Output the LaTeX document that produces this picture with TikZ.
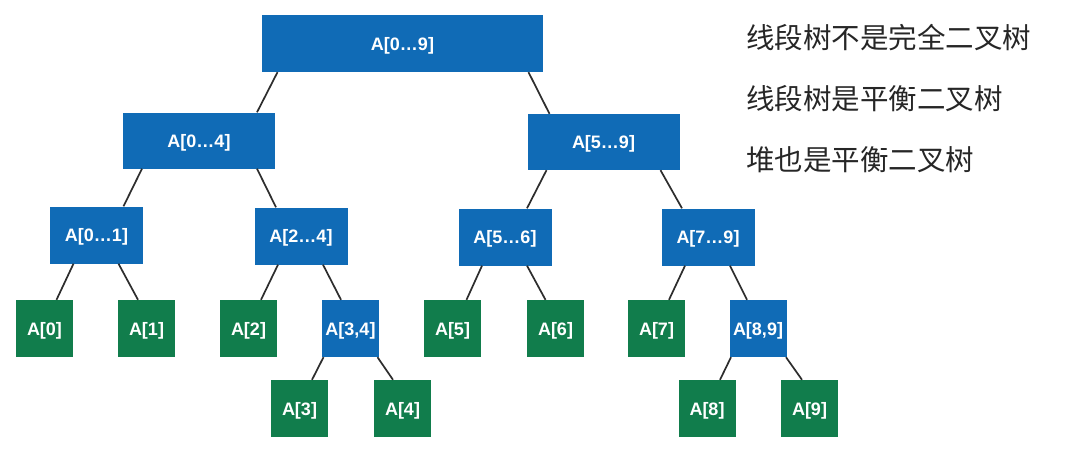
\documentclass[tikz,border=0pt]{standalone}
\usepackage{fontspec}
\setmainfont{Liberation Sans}
\newfontfamily\cjk{Noto Sans CJK SC}
\definecolor{nodeblue}{RGB}{16,107,182}
\definecolor{leafgreen}{RGB}{17,125,76}
\definecolor{edgegray}{RGB}{45,45,45}
\begin{document}
\begin{tikzpicture}[x=1pt,y=-1pt,
  box/.style={rectangle, inner sep=0pt, text=white, text height=13pt, text depth=0pt, font=\fontsize{18}{21}\selectfont\bfseries},
  rootbox/.style={box, fill=nodeblue, minimum width=281pt, minimum height=57pt},
  midbox/.style={box, fill=nodeblue, minimum width=152pt, minimum height=56pt},
  smallbox/.style={box, fill=nodeblue, minimum width=93pt, minimum height=57pt},
  pairbox/.style={box, fill=nodeblue, minimum width=57pt, minimum height=57pt},
  leafbox/.style={box, fill=leafgreen, minimum width=57pt, minimum height=57pt},
  link/.style={draw=edgegray, line width=1.7pt},
  note/.style={anchor=west, inner sep=0pt, text=black!85, font=\cjk\fontsize{28.5}{32}\selectfont}]
\useasboundingbox (0,0) rectangle (1080,461);
\fill[white] (0,0) rectangle (1080,461);
% nodes
\node[rootbox] (r) at (402.5,43.5) {A[0…9]};
\node[midbox] (n04) at (199,140.5) {A[0…4]};
\node[midbox] (n59) at (603.5,142) {A[5…9]};
\node[smallbox] (n01) at (96.5,235) {A[0…1]};
\node[smallbox] (n24) at (301,236) {A[2…4]};
\node[smallbox] (n56) at (505,237) {A[5…6]};
\node[smallbox] (n79) at (708,237) {A[7…9]};
\node[leafbox] (a0) at (44.5,328.5) {A[0]};
\node[leafbox] (a1) at (146.5,328.5) {A[1]};
\node[leafbox] (a2) at (248.5,328.5) {A[2]};
\node[pairbox] (a34) at (350.5,328.5) {A[3,4]};
\node[leafbox] (a5) at (452.5,328.5) {A[5]};
\node[leafbox] (a6) at (555.5,328.5) {A[6]};
\node[leafbox] (a7) at (656.5,328.5) {A[7]};
\node[pairbox] (a89) at (758,328.5) {A[8,9]};
\node[leafbox] (a3) at (299.5,408.5) {A[3]};
\node[leafbox] (a4) at (402.5,408.5) {A[4]};
\node[leafbox] (a8) at (707,408.5) {A[8]};
\node[leafbox] (a9) at (809.5,408.5) {A[9]};
% edges
\draw[link] ([xshift=-125pt]r.south) -- ([xshift=58pt]n04.north);
\draw[link] ([xshift=126pt]r.south) -- ([xshift=-54pt]n59.north);
\draw[link] ([xshift=-57pt]n04.south) -- ([xshift=27pt]n01.north);
\draw[link] ([xshift=58pt]n04.south) -- ([xshift=-25pt]n24.north);
\draw[link] ([xshift=-57pt]n59.south) -- ([xshift=22pt]n56.north);
\draw[link] ([xshift=57pt]n59.south) -- ([xshift=-26pt]n79.north);
\draw[link] ([xshift=-23pt]n01.south) -- ([xshift=12pt]a0.north);
\draw[link] ([xshift=22pt]n01.south) -- ([xshift=-8.5pt]a1.north);
\draw[link] ([xshift=-23pt]n24.south) -- ([xshift=12.5pt]a2.north);
\draw[link] ([xshift=22pt]n24.south) -- ([xshift=-9.5pt]a34.north);
\draw[link] ([xshift=-23pt]n56.south) -- ([xshift=14pt]a5.north);
\draw[link] ([xshift=22pt]n56.south) -- ([xshift=-10pt]a6.north);
\draw[link] ([xshift=-23pt]n79.south) -- ([xshift=12.5pt]a7.north);
\draw[link] ([xshift=22pt]n79.south) -- ([xshift=-11pt]a89.north);
\draw[link] ([xshift=-27pt]a34.south) -- ([xshift=12.5pt]a3.north);
\draw[link] ([xshift=27pt]a34.south) -- ([xshift=-9.5pt]a4.north);
\draw[link] ([xshift=-27pt]a89.south) -- ([xshift=13pt]a8.north);
\draw[link] ([xshift=28pt]a89.south) -- ([xshift=-7.5pt]a9.north);
% notes
\node[note] (t1) at (746,38) {线段树不是完全二叉树};
\node[note] (t2) at (746,99) {线段树是平衡二叉树};
\node[note] (t3) at (746,160) {堆也是平衡二叉树};
\end{tikzpicture}
\end{document}
